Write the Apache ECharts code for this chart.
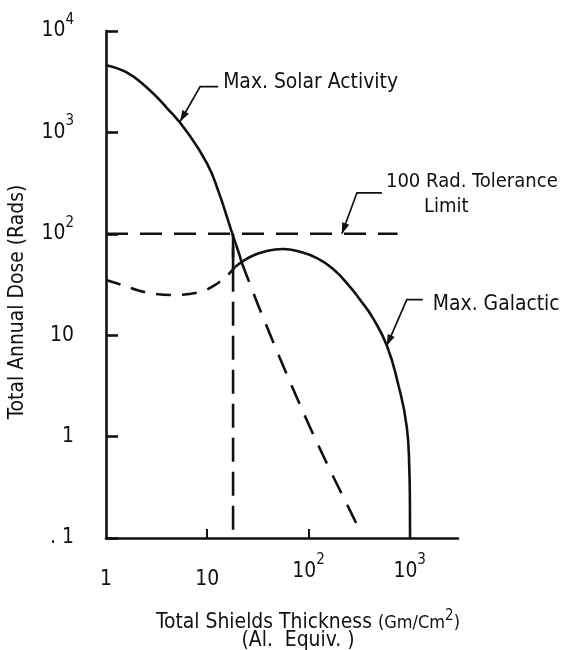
<!DOCTYPE html>
<html><head><meta charset="utf-8">
<script src="https://cdn.jsdelivr.net/npm/echarts@6/dist/echarts.min.js"></script>
<style>html,body{margin:0;padding:0;background:#fff}#c{width:562px;height:650px}</style>
</head><body><div id="c"></div>
<script>
// ---------- data ----------
const solarSolid = [[1,4600],[1.6,3900],[2.5,2800],[4,1740],[6.3,1015],[10,490],[13,256],[16,137],[18,95],[20,70],[22,51.5]];
const solarDashed = [[22,51.5],[26.4,32],[31.7,20],[39.7,11.5],[52,6],[70,3],[103,1.25],[163,0.47],[230,0.234],[307,0.13]];
const galacticDashed = [[1,35],[1.44,31.3],[2.4,26.7],[4.5,24.9],[8.5,26.7],[12,31.3],[16,39.3],[18.8,47]];
const galacticSolid = [[18.8,47],[26.4,59],[38.8,67.6],[56,70.8],[82,66.5],[121,57.5],[174,45.2],[256,30.2],[322,22.5],[432,14.8],[594,7.9],[763,3.4],[936,1.24],[990,0.5],[1005,0.22],[1008,0.1]];
const toleranceLine = [[1,100],[760,100]];
const crossoverLine = [[18,100],[18,0.1]];
const crossoverSolid = [[18,74],[18,44]];

const xTickValues = [1,10,100,1000];
const xTickLabels = ['1','10','10^2','10^3'];
const xMinorTickValues = [10,100];
const yTickValues = [0.1,1,10,100,1000,10000];
const yTickLabels = ['. 1','1','10','10^2','10^3','10^4'];

const annotationTexts = ['Max. Solar Activity','100 Rad. Tolerance','Limit','Max. Galactic'];
const annotationTips = [[5.4,1280],[214,100],[594,7.9]];

const yAxisName = 'Total Annual Dose (Rads)';
const xAxisName1 = 'Total Shields Thickness ';
const xAxisUnit = '(Gm/Cm';
const xAxisName2 = '(Al.  Equiv. )';

// ---------- font ----------
function available(f){
  const ctx=document.createElement('canvas').getContext('2d');
  const s='Max. Solar Activity 0123456789';
  for(const b of ['monospace','serif']){
    ctx.font='20px '+b; const w0=ctx.measureText(s).width;
    ctx.font='20px "'+f+'", '+b;
    if(Math.abs(ctx.measureText(s).width-w0)>0.01) return true;
  }
  return false;
}
const fontList=['Liberation Sans Narrow','DejaVu Sans Condensed','Roboto Condensed','Liberation Sans','Noto Sans'];
let FONT='sans-serif';
for(const f of fontList){ if(available(f)){FONT=f;break;} }
const mctx=document.createElement('canvas').getContext('2d');
mctx.font='20px "'+FONT+'"';
let fs=20*175/mctx.measureText('Max. Solar Activity').width;
fs=Math.max(13,Math.min(24,fs));

const INK='#111';
const LW=2.6;
const S=Math.round(fs*0.7), Q=22, L=S+Q;
function tickRich(){
  return {
    b:{fontSize:fs,lineHeight:fs,fontFamily:FONT,color:INK,verticalAlign:'middle'},
    p:{fontSize:fs,lineHeight:L,fontFamily:FONT,color:INK,verticalAlign:'middle'},
    s:{fontSize:S,lineHeight:S,padding:[0,0,Q,0],fontFamily:FONT,color:INK,verticalAlign:'middle'}
  };
}
function fmtLabel(t){
  const m=t.split('^');
  if(m.length===2) return '{b|'+m[0]+'}{s|'+m[1]+'}';
  return '{p|'+t+'}';
}
function lookup(vals,labels,v){
  const lv=Math.log10(v);
  for(let i=0;i<vals.length;i++){ if(Math.abs(Math.log10(vals[i])-lv)<0.01) return fmtLabel(labels[i]); }
  return '';
}

const chart=echarts.init(document.getElementById('c'),null,{renderer:'canvas'});
function ser(data,type,extra){
  return Object.assign({type:'line',symbol:'none',showSymbol:false,silent:true,smooth:0.5,animation:false,
    data:data,lineStyle:{color:INK,width:LW,type:type}},extra||{});
}
chart.setOption({
  animation:false,
  backgroundColor:'#fff',
  grid:{left:106,right:104,top:31,bottom:112},
  xAxis:{type:'log',logBase:10,min:1,max:3000,
    axisLine:{show:true,lineStyle:{color:INK,width:2.6}},
    axisTick:{show:true,inside:true,length:9,customValues:xMinorTickValues,lineStyle:{color:INK,width:2}},
    splitLine:{show:false},
    axisLabel:{customValues:xTickValues,margin:23,formatter:v=>lookup(xTickValues,xTickLabels,v),rich:tickRich()}
  },
  yAxis:{type:'log',logBase:10,min:0.1,max:10000,
    axisLine:{show:true,lineStyle:{color:INK,width:2.6}},
    axisTick:{show:true,inside:true,length:12,lineStyle:{color:INK,width:2.6}},
    splitLine:{show:false},
    axisLabel:{margin:32,formatter:v=>lookup(yTickValues,yTickLabels,v),rich:tickRich()}
  },
  series:[
    ser(toleranceLine,[22,12],{smooth:false}),
    ser(crossoverLine,[24,10],{smooth:false}),
    ser(crossoverSolid,'solid',{smooth:false}),
    ser(solarSolid,'solid'),
    ser(solarDashed,[20,13],{smooth:0.35}),
    ser(galacticDashed,[15,11],{smooth:0.35}),
    ser(galacticSolid,'solid')
  ]
});

// ---------- annotations ----------
function P(d){return chart.convertToPixel({gridIndex:0},d);}
const g=[];
function textEl(x,y,txt,size){
  g.push({type:'text',x:x,y:y,silent:true,style:{text:txt,fontSize:size,fontFamily:FONT,fill:INK,align:'left',verticalAlign:'middle'}});
}
function leader(tip,elbow,end){
  g.push({type:'polyline',silent:true,shape:{points:[end,elbow,tip]},style:{stroke:INK,lineWidth:1.7,fill:null}});
  const dx=tip[0]-elbow[0], dy=tip[1]-elbow[1], len=Math.hypot(dx,dy);
  const ux=dx/len, uy=dy/len, hl=11, hw=3.8;
  const bx=tip[0]-ux*hl, by=tip[1]-uy*hl;
  g.push({type:'polygon',silent:true,shape:{points:[tip,[bx-uy*hw,by+ux*hw],[bx+uy*hw,by-ux*hw]]},style:{fill:INK}});
}
const layout=[
  {elbow:[20,-35],end:[38,-35],texts:[[43,-39,0,1]]},
  {elbow:[15,-41],end:[40,-41],texts:[[44,-52,1,0.96],[82,-27,2,0.96]]},
  {elbow:[20,-46],end:[36,-46],texts:[[46,-41,3,1]]}
];
annotationTips.forEach((d,i)=>{
  const t=P(d), lo=layout[i];
  leader(t,[t[0]+lo.elbow[0],t[1]+lo.elbow[1]],[t[0]+lo.end[0],t[1]+lo.end[1]]);
  lo.texts.forEach(tt=>textEl(t[0]+tt[0],t[1]+tt[1],annotationTexts[tt[2]],fs*tt[3]));
});
// axis names
g.push({type:'text',x:18,y:302,rotation:Math.PI/2,silent:true,style:{text:yAxisName,fontSize:fs,fontFamily:FONT,fill:INK,align:'center',verticalAlign:'middle'}});
g.push({type:'text',x:308,y:623,silent:true,style:{
  text:xAxisName1+'{g|'+xAxisUnit+'}{s|2}{g|)}',fontSize:fs,fontFamily:FONT,fill:INK,align:'center',verticalAlign:'middle',
  rich:{g:{fontSize:Math.round(fs*0.85),fontFamily:FONT,color:INK,verticalAlign:'middle'},s:{fontSize:Math.round(fs*0.7),padding:[0,0,14,0],fontFamily:FONT,color:INK,verticalAlign:'middle'}}}});
g.push({type:'text',x:298,y:641,silent:true,style:{text:xAxisName2,fontSize:fs,fontFamily:FONT,fill:INK,align:'center',verticalAlign:'middle'}});
chart.setOption({graphic:g});
</script></body></html>
